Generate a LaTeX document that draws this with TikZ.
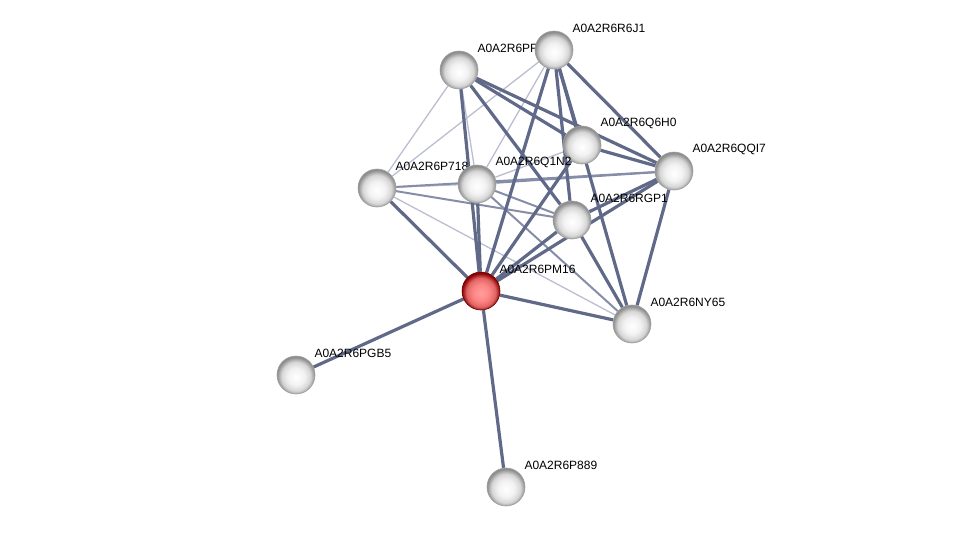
\documentclass[tikz,border=0pt]{standalone}
\usepackage{fontspec}
\setmainfont{Liberation Sans}
\usetikzlibrary{backgrounds, positioning}
\definecolor{edgedark}{RGB}{96,105,136}
\definecolor{edgemid}{RGB}{134,141,168}
\definecolor{edgelight}{RGB}{186,190,208}
\pgfdeclareradialshading{greyball}{\pgfpoint{0bp}{-3bp}}{color(0bp)=(white); color(11bp)=(white!95!black); color(19bp)=(white!84!black); color(25bp)=(white!55!black); color(50bp)=(white!55!black)}
\pgfdeclareradialshading{redball}{\pgfpoint{0bp}{-3bp}}{color(0bp)=(red!38!white); color(11bp)=(red!48!white); color(19bp)=(red!55!white!88!black); color(25bp)=(red!55!black); color(50bp)=(red!55!black)}
\tikzset{
  protein/.style={circle, minimum size=38pt, inner sep=0pt, draw=gray!75, line width=0.6pt, shading=greyball},
  query/.style={protein, draw=red!40!black, shading=redball},
  lbl/.style={font=\fontsize{12}{14}\selectfont, inner sep=0pt, anchor=west, xshift=-1pt, yshift=22pt},
  strong/.style={edgedark, line width=3.2pt},
  medium/.style={edgemid, line width=2pt},
  weak/.style={edgelight, line width=1.3pt}
}

\begin{document}
\begin{tikzpicture}[x=1pt, y=-1pt]
  \useasboundingbox (0,0) rectangle (975,533);
  % proteins
  \node[protein, label={[lbl]0:A0A2R6PF}] (pf) at (459,70) {};
  \node[protein, label={[lbl]0:A0A2R6R6J1}] (rj) at (554,50) {};
  \node[protein, label={[lbl]0:A0A2R6Q6H0}] (qh) at (582,145) {};
  \node[protein, label={[lbl]0:A0A2R6QQI7}] (qq) at (674,171) {};
  \node[protein, label={[lbl]0:A0A2R6P718}] (pt) at (377,188) {};
  \node[protein, label={[lbl]0:A0A2R6Q1N2}] (qn) at (477,184) {};
  \node[protein, label={[lbl]0:A0A2R6RGP1}] (rg) at (572,220) {};
  \node[query, label={[lbl]0:A0A2R6PM16}] (pm) at (481,291) {};
  \node[protein, label={[lbl]0:A0A2R6NY65}] (ny) at (632,324) {};
  \node[protein, label={[lbl]0:A0A2R6PGB5}] (pg) at (296,375) {};
  \node[protein, label={[lbl]0:A0A2R6P889}] (p8) at (506,487) {};
  % interactions
  \begin{scope}[on background layer]
    \foreach \a/\b in {pf/qn, pf/pt, rj/pt, rj/qn, qn/qh, pt/qn, pt/ny}
      \draw[weak] (\a) -- (\b);
    \foreach \a/\b in {pt/rg, qn/qq, qn/rg, qn/ny, pt/qq}
      \draw[medium] (\a) -- (\b);
    \foreach \a/\b in {pf/pm, pf/qh, pf/qq, pf/rg, rj/qh, rj/ny, rj/qq, rj/rg, rj/pm,
                       qh/qq, qh/pm, qq/rg, qq/pm, qq/ny, rg/ny, rg/pm,
                       pm/ny, pm/pg, pm/p8, pt/pm, qn/pm}
      \draw[strong] (\a) -- (\b);
  \end{scope}
\end{tikzpicture}
\end{document}
